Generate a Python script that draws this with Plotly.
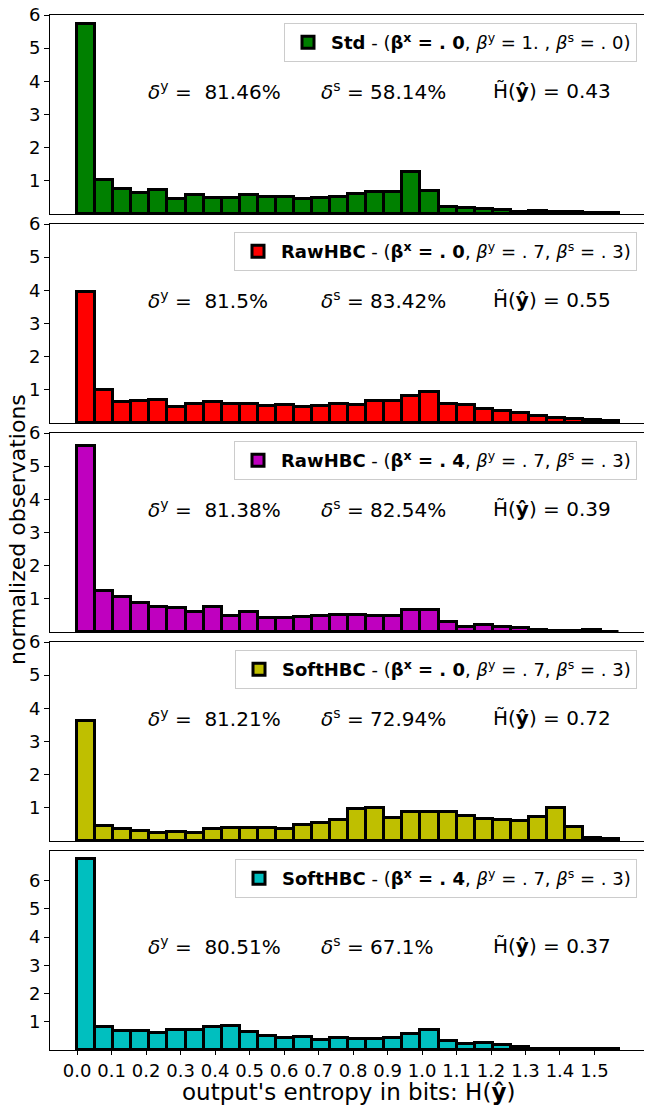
import numpy as np
import plotly.graph_objects as go
from plotly.subplots import make_subplots

# histogram heights (density), 30 bins each
std_vals = [5.74, 1.02, 0.75, 0.63, 0.72, 0.44, 0.57, 0.48, 0.48, 0.57,
            0.52, 0.52, 0.44, 0.48, 0.52, 0.61, 0.67, 0.67, 1.27, 0.69,
            0.21, 0.18, 0.15, 0.12, 0.06, 0.08, 0.06, 0.06, 0.03, 0.03]
raw0_vals = [3.94, 1.00, 0.62, 0.65, 0.70, 0.47, 0.57, 0.62, 0.58, 0.58,
             0.50, 0.55, 0.47, 0.50, 0.58, 0.55, 0.65, 0.65, 0.80, 0.92,
             0.58, 0.55, 0.43, 0.37, 0.30, 0.22, 0.16, 0.13, 0.08, 0.05]
raw4_vals = [5.62, 1.23, 1.05, 0.86, 0.75, 0.72, 0.60, 0.75, 0.48, 0.60,
             0.42, 0.42, 0.45, 0.48, 0.51, 0.51, 0.48, 0.48, 0.66, 0.66,
             0.30, 0.15, 0.21, 0.15, 0.12, 0.06, 0.03, 0.03, 0.06, 0.01]
soft0_vals = [3.61, 0.44, 0.35, 0.29, 0.23, 0.26, 0.23, 0.35, 0.38, 0.38,
              0.38, 0.35, 0.47, 0.53, 0.62, 0.95, 1.01, 0.68, 0.86, 0.86,
              0.86, 0.74, 0.65, 0.62, 0.59, 0.71, 1.01, 0.41, 0.08, 0.05]
soft4_vals = [6.75, 0.81, 0.66, 0.66, 0.60, 0.70, 0.70, 0.81, 0.84, 0.63,
              0.49, 0.42, 0.45, 0.34, 0.42, 0.38, 0.38, 0.42, 0.56, 0.70,
              0.31, 0.20, 0.24, 0.17, 0.09, 0.04, 0.04, 0.04, 0.04, 0.04]

names = ["Std", "RawHBC", "RawHBC", "SoftHBC", "SoftHBC"]
beta_x = [".0", ".0", ".4", ".0", ".4"]
beta_y = ["1.", ".7", ".7", ".7", ".7"]
beta_s = [".0", ".3", ".3", ".3", ".3"]
delta_y = ["81.46%", "81.5%", "81.38%", "81.21%", "80.51%"]
delta_s = ["58.14%", "83.42%", "82.54%", "72.94%", "67.1%"]
h_med = ["0.43", "0.55", "0.39", "0.72", "0.37"]
colors = ["#008000", "#ff0000", "#bf00bf", "#bfbf00", "#00bfbf"]
series = [std_vals, raw0_vals, raw4_vals, soft0_vals, soft4_vals]

x_ticks = [round(0.1 * i, 1) for i in range(16)]
h_max = 1.5717
n_bins = 30
edges = np.linspace(0, h_max, n_bins + 1)
centers = (edges[:-1] + edges[1:]) / 2
bw = edges[1] - edges[0]

# the page puts the plot 8px in from the top-left corner
off = 8
W, H = 652 - off, 1114 - off
ml, mr, mt, mb = 50 - off, 7, 15 - off, 64
plot_w = W - ml - mr
plot_h = H - mt - mb
gap = 10

fig = make_subplots(rows=5, cols=1, shared_xaxes=True,
                    vertical_spacing=gap / plot_h)

font = "DejaVu Sans"
panel_h = (plot_h - 4 * gap) / 5


def frac(v):
    # ".7" -> ". 7" like the mathtext spacing in the original
    return ". " + v[1:] if v.startswith(".") else v + " "


for i in range(5):
    leg = "legend" if i == 0 else f"legend{i + 1}"
    label = (f"<b>{names[i]}</b> - (<b>β<sup>x</sup> = {frac(beta_x[i])}</b>, "
             f"<i>β</i><sup>y</sup> = {frac(beta_y[i])}, "
             f"<i>β</i><sup>s</sup> = {frac(beta_s[i])})")
    fig.add_trace(go.Bar(
        x=centers, y=series[i], width=bw,
        marker=dict(color=colors[i], line=dict(color="black", width=3)),
        name=label, legend=leg, showlegend=True,
    ), row=i + 1, col=1)

    top = i * (panel_h + gap)
    fig.update_layout({leg: dict(
        x=(plot_w - 8) / plot_w, xanchor="right",
        y=1 - (top + 8) / plot_h, yanchor="top",
        bgcolor="rgba(255,255,255,0.8)", bordercolor="#cccccc", borderwidth=1,
        font=dict(family=font, size=18, color="black"),
        itemwidth=36,
    )})

    ytop = 7.05 if i == 4 else 6
    fig.update_yaxes(range=[0, ytop], tickvals=[1, 2, 3, 4, 5, 6],
                     row=i + 1, col=1)

    xref = "x" if i == 0 else f"x{i + 1}"
    yref = "y" if i == 0 else f"y{i + 1}"
    texts = [f"<i>δ</i><sup>y</sup> =  {delta_y[i]}",
             f"<i>δ</i><sup>s</sup> = {delta_s[i]}",
             f"H\u0303(<b>ŷ</b>) = {h_med[i]}"]
    for xp, t in zip([0.2, 0.7, 1.2], texts):
        fig.add_annotation(x=xp, y=3.7, xref=xref, yref=yref, text=t,
                           showarrow=False, xanchor="left", yanchor="middle",
                           font=dict(family=font, size=20, color="black"))

fig.update_xaxes(range=[-0.0786, 1.6465], showline=True, mirror=True,
                 linecolor="black", linewidth=1, showgrid=False, zeroline=False,
                 ticks="", showticklabels=False, automargin=False)
fig.update_xaxes(tickvals=x_ticks, ticktext=[f"{v:.1f}" for v in x_ticks],
                 ticks="outside", ticklen=4, tickcolor="black",
                 showticklabels=True, tickfont=dict(size=18),
                 row=5, col=1)
fig.update_yaxes(showline=True, mirror=True, linecolor="black", linewidth=1,
                 showgrid=False, zeroline=False, ticks="outside", ticklen=5,
                 tickcolor="black", tickfont=dict(size=18), automargin=False,
                 ticklabeloverflow="allow")

fig.add_annotation(text="normalized observations", xref="paper", yref="paper",
                   x=(17 - 50) / plot_w, y=(1050 - 530) / plot_h,
                   textangle=-90, showarrow=False, xanchor="center",
                   yanchor="middle",
                   font=dict(family=font, size=22, color="black"))
fig.add_annotation(text="output's entropy in bits: H(<b>ŷ</b>)",
                   xref="paper", yref="paper",
                   x=(348 - 50) / plot_w, y=-(1092 - 1050) / plot_h,
                   showarrow=False, xanchor="center", yanchor="middle",
                   font=dict(family=font, size=23, color="black"))

fig.update_layout(
    width=W, height=H,
    margin=dict(l=ml, r=mr, t=mt, b=mb),
    plot_bgcolor="white", paper_bgcolor="white",
    font=dict(family=font, size=18, color="black"),
    bargap=0,
)

fig.write_html("out.html")
